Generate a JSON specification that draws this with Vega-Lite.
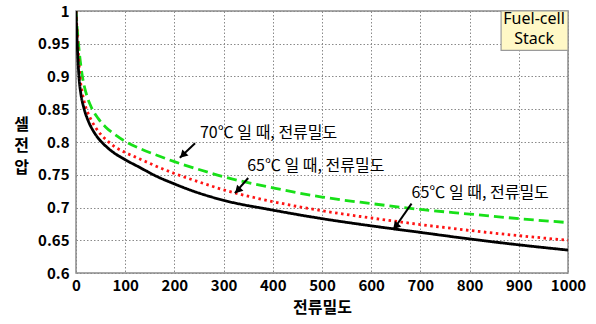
{
  "$schema": "https://vega.github.io/schema/vega-lite/v6.json",
  "width": 492,
  "height": 262,
  "autosize": "none",
  "padding": {"left": 76, "top": 11, "right": 28, "bottom": 51},
  "background": "white",
  "config": {
    "view": {"stroke": "#8c8c8c", "strokeWidth": 1.5},
    "font": "Noto Sans CJK KR"
  },
  "datasets": {
    "curves": [
      {"d": 0, "v": 1.0, "s": "70℃"},
      {"d": 3, "v": 0.968, "s": "70℃"},
      {"d": 7, "v": 0.935, "s": "70℃"},
      {"d": 13, "v": 0.9, "s": "70℃"},
      {"d": 20, "v": 0.876, "s": "70℃"},
      {"d": 30, "v": 0.855, "s": "70℃"},
      {"d": 45, "v": 0.836, "s": "70℃"},
      {"d": 60, "v": 0.823, "s": "70℃"},
      {"d": 80, "v": 0.811, "s": "70℃"},
      {"d": 100, "v": 0.801, "s": "70℃"},
      {"d": 130, "v": 0.79, "s": "70℃"},
      {"d": 160, "v": 0.781, "s": "70℃"},
      {"d": 200, "v": 0.77, "s": "70℃"},
      {"d": 250, "v": 0.758, "s": "70℃"},
      {"d": 300, "v": 0.747, "s": "70℃"},
      {"d": 400, "v": 0.73, "s": "70℃"},
      {"d": 500, "v": 0.716, "s": "70℃"},
      {"d": 600, "v": 0.706, "s": "70℃"},
      {"d": 700, "v": 0.697, "s": "70℃"},
      {"d": 800, "v": 0.69, "s": "70℃"},
      {"d": 900, "v": 0.683, "s": "70℃"},
      {"d": 1000, "v": 0.677, "s": "70℃"},
      {"d": 0, "v": 1.0, "s": "65℃ a"},
      {"d": 3, "v": 0.958, "s": "65℃ a"},
      {"d": 8, "v": 0.9, "s": "65℃ a"},
      {"d": 13, "v": 0.874, "s": "65℃ a"},
      {"d": 20, "v": 0.853, "s": "65℃ a"},
      {"d": 30, "v": 0.835, "s": "65℃ a"},
      {"d": 40, "v": 0.822, "s": "65℃ a"},
      {"d": 50, "v": 0.812, "s": "65℃ a"},
      {"d": 65, "v": 0.801, "s": "65℃ a"},
      {"d": 80, "v": 0.792, "s": "65℃ a"},
      {"d": 100, "v": 0.784, "s": "65℃ a"},
      {"d": 130, "v": 0.774, "s": "65℃ a"},
      {"d": 160, "v": 0.764, "s": "65℃ a"},
      {"d": 200, "v": 0.752, "s": "65℃ a"},
      {"d": 250, "v": 0.739, "s": "65℃ a"},
      {"d": 300, "v": 0.727, "s": "65℃ a"},
      {"d": 400, "v": 0.709, "s": "65℃ a"},
      {"d": 500, "v": 0.695, "s": "65℃ a"},
      {"d": 600, "v": 0.684, "s": "65℃ a"},
      {"d": 700, "v": 0.674, "s": "65℃ a"},
      {"d": 800, "v": 0.665, "s": "65℃ a"},
      {"d": 900, "v": 0.657, "s": "65℃ a"},
      {"d": 1000, "v": 0.65, "s": "65℃ a"},
      {"d": 0, "v": 1.0, "s": "65℃ b"},
      {"d": 2, "v": 0.958, "s": "65℃ b"},
      {"d": 6, "v": 0.9, "s": "65℃ b"},
      {"d": 10, "v": 0.873, "s": "65℃ b"},
      {"d": 16, "v": 0.852, "s": "65℃ b"},
      {"d": 25, "v": 0.832, "s": "65℃ b"},
      {"d": 35, "v": 0.817, "s": "65℃ b"},
      {"d": 45, "v": 0.806, "s": "65℃ b"},
      {"d": 60, "v": 0.794, "s": "65℃ b"},
      {"d": 80, "v": 0.782, "s": "65℃ b"},
      {"d": 100, "v": 0.773, "s": "65℃ b"},
      {"d": 130, "v": 0.761, "s": "65℃ b"},
      {"d": 160, "v": 0.749, "s": "65℃ b"},
      {"d": 200, "v": 0.736, "s": "65℃ b"},
      {"d": 250, "v": 0.722, "s": "65℃ b"},
      {"d": 300, "v": 0.711, "s": "65℃ b"},
      {"d": 400, "v": 0.696, "s": "65℃ b"},
      {"d": 500, "v": 0.683, "s": "65℃ b"},
      {"d": 600, "v": 0.672, "s": "65℃ b"},
      {"d": 700, "v": 0.662, "s": "65℃ b"},
      {"d": 800, "v": 0.652, "s": "65℃ b"},
      {"d": 900, "v": 0.643, "s": "65℃ b"},
      {"d": 1000, "v": 0.635, "s": "65℃ b"}
    ],
    "notes": [
      {"x": 252, "y": 0.814, "label": "70℃ 일 때, 전류밀도"},
      {"x": 348, "y": 0.763, "label": "65℃ 일 때, 전류밀도"},
      {"x": 682, "y": 0.722, "label": "65℃ 일 때, 전류밀도"}
    ],
    "arrows": [
      {"id": "a1", "x1": 242, "y1": 0.798, "x2": 211, "y2": 0.776, "hx": 217, "hy": 0.780},
      {"id": "a2", "x1": 350, "y1": 0.745, "x2": 323, "y2": 0.722, "hx": 328.6, "hy": 0.726},
      {"id": "a3", "x1": 682, "y1": 0.706, "x2": 645, "y2": 0.666, "hx": 649.6, "hy": 0.671}
    ],
    "box": [
      {"x": 864, "x2": 1000, "y": 0.94, "y2": 1.0}
    ],
    "boxtext": [
      {"x": 931, "y": 0.988, "label": "Fuel-cell"},
      {"x": 931, "y": 0.957, "label": "Stack"}
    ]
  },
  "layer": [
    {
      "data": {"name": "curves"},
      "mark": {"type": "line", "strokeWidth": 2.8, "clip": true, "interpolate": "monotone"},
      "encoding": {
        "x": {
          "field": "d", "type": "quantitative",
          "scale": {"domain": [0, 1000], "nice": false},
          "axis": {
            "tickCount": 10,
            "format": "d",
            "grid": true, "gridDash": [1.5, 2], "gridColor": "#8a8a8a", "gridWidth": 1,
            "domain": false, "ticks": false, "tickSize": 0,
            "labelFontSize": 15, "labelFontWeight": "bold", "labelColor": "#000",
            "labelPadding": 5, "labelFlush": false, "labelOverlap": false,
            "title": "전류밀도", "titleFontSize": 16, "titleFontWeight": "bold",
            "titleColor": "#000", "titleBaseline": "middle", "titleY": 34
          }
        },
        "y": {
          "field": "v", "type": "quantitative",
          "scale": {"domain": [0.6, 1], "nice": false, "zero": false},
          "axis": {
            "tickCount": 8,
            "format": "~g",
            "grid": true, "gridDash": [1.5, 2], "gridColor": "#8a8a8a", "gridWidth": 1,
            "domain": false, "ticks": false, "tickSize": 0,
            "labelFontSize": 15, "labelFontWeight": "bold", "labelColor": "#000",
            "labelPadding": 7, "labelFlush": false, "labelOverlap": false,
            "title": ["셀", "전", "압"], "titleAngle": 0, "titleAlign": "center",
            "titleBaseline": "top", "titleX": -55, "titleY": 105, "titleLineHeight": 21.5,
            "titleFontSize": 16, "titleFontWeight": "bold", "titleColor": "#000"
          }
        },
        "color": {
          "field": "s", "type": "nominal",
          "scale": {"domain": ["70℃", "65℃ a", "65℃ b"], "range": ["#18e018", "#ff1414", "#000000"]},
          "legend": null
        },
        "strokeDash": {
          "field": "s", "type": "nominal",
          "scale": {"domain": ["70℃", "65℃ a", "65℃ b"], "range": [[10, 5], [2.5, 3.5], [1, 0]]},
          "legend": null
        }
      }
    },
    {
      "data": {"name": "arrows"},
      "mark": {"type": "rule", "color": "#000", "strokeWidth": 2},
      "encoding": {
        "x": {"field": "x1", "type": "quantitative"},
        "y": {"field": "y1", "type": "quantitative"},
        "x2": {"field": "x2"},
        "y2": {"field": "y2"}
      }
    },
    {
      "data": {"name": "arrows"},
      "mark": {"type": "point", "shape": "triangle-up", "filled": true, "color": "#000", "size": 75, "opacity": 1},
      "encoding": {
        "x": {"field": "hx", "type": "quantitative"},
        "y": {"field": "hy", "type": "quantitative"},
        "angle": {
          "field": "id", "type": "nominal",
          "scale": {"domain": ["a1", "a2", "a3"], "range": [225, 221.6, 214.6]},
          "legend": null
        }
      }
    },
    {
      "data": {"name": "notes"},
      "mark": {"type": "text", "align": "left", "baseline": "middle", "fontSize": 16, "color": "#000", "font": "Noto Sans CJK KR"},
      "encoding": {
        "x": {"field": "x", "type": "quantitative"},
        "y": {"field": "y", "type": "quantitative"},
        "text": {"field": "label"}
      }
    },
    {
      "data": {"name": "box"},
      "mark": {"type": "rect", "fill": "#fff8c6", "stroke": "#9a9a9a", "strokeWidth": 1.2},
      "encoding": {
        "x": {"field": "x", "type": "quantitative"},
        "x2": {"field": "x2"},
        "y": {"field": "y", "type": "quantitative"},
        "y2": {"field": "y2"}
      }
    },
    {
      "data": {"name": "boxtext"},
      "mark": {"type": "text", "align": "center", "baseline": "middle", "fontSize": 16, "color": "#000", "font": "Noto Sans"},
      "encoding": {
        "x": {"field": "x", "type": "quantitative"},
        "y": {"field": "y", "type": "quantitative"},
        "text": {"field": "label"}
      }
    }
  ]
}
